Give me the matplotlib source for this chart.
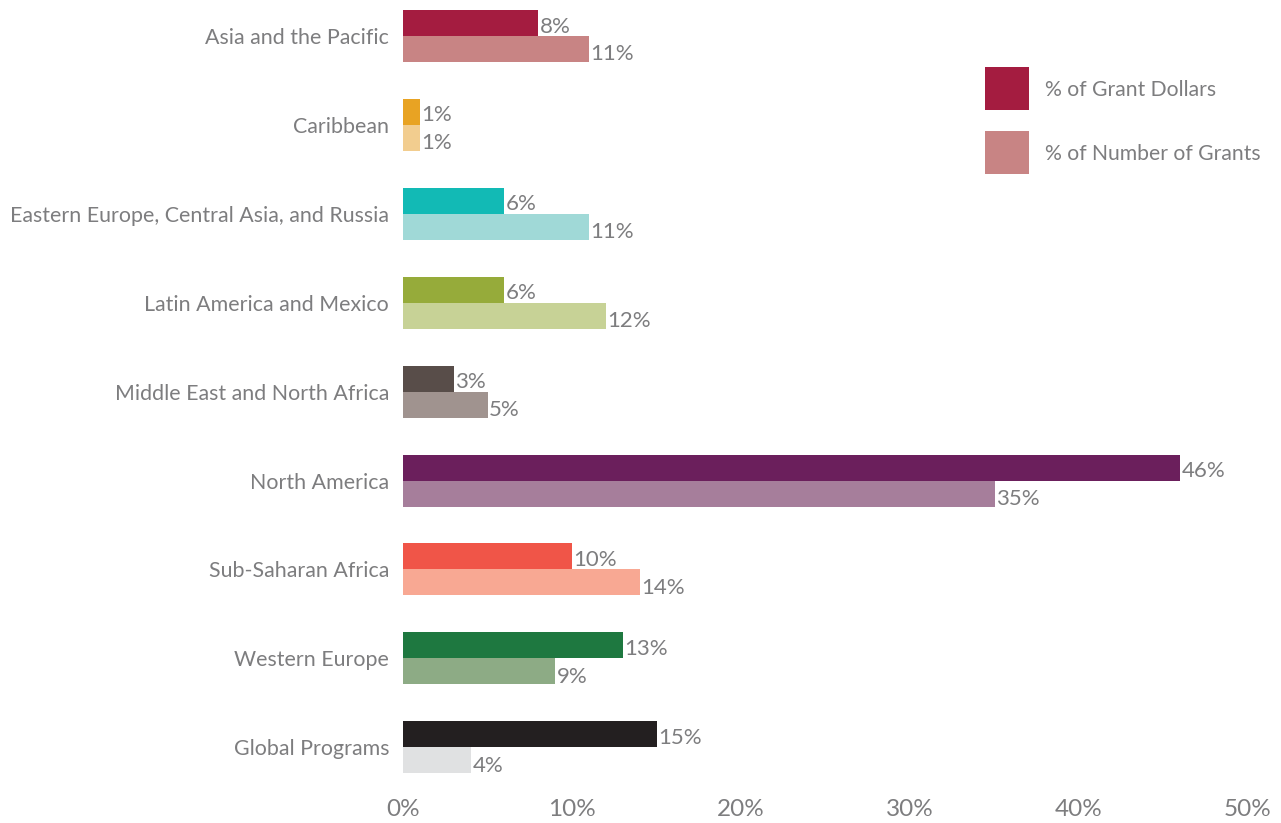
import matplotlib
matplotlib.use("Agg")
import matplotlib.pyplot as plt
from matplotlib.patches import Rectangle

categories = ["Asia and the Pacific", "Caribbean", "Eastern Europe, Central Asia, and Russia",
              "Latin America and Mexico", "Middle East and North Africa", "North America",
              "Sub-Saharan Africa", "Western Europe", "Global Programs"]
grant_dollars = [8, 1, 6, 6, 3, 46, 10, 13, 15]
number_grants = [11, 1, 11, 12, 5, 35, 14, 9, 4]
dark_colors = ["#a41c40", "#e8a323", "#12bab5", "#96ab3a", "#584d49", "#6b1f5c", "#f05548", "#1e7840", "#231f20"]
light_colors = ["#c88484", "#f2cd8f", "#a0d9d7", "#c7d296", "#a0938f", "#a67e9b", "#f8a893", "#8dab85", "#e0e1e2"]
x_ticks = [0, 10, 20, 30, 40, 50]
legend_labels = ["% of Grant Dollars", "% of Number of Grants"]

plt.rcParams['font.family'] = ['Lato', 'DejaVu Sans']
TXT = "#7d7d7f"

W, H = 1281, 823
fig = plt.figure(figsize=(W / 100, H / 100), dpi=100)
ax_left, ax_right = 403 / W, 1248 / W
ax_top_px, ax_bot_px = 5, 785
ax = fig.add_axes([ax_left, 1 - ax_bot_px / H, ax_right - ax_left, (ax_bot_px - ax_top_px) / H])

step = 88.9
c0 = 36
bh = 26 / step
ax.set_ylim((ax_bot_px - c0) / step, (ax_top_px - c0) / step)
ax.set_xlim(0, 50)

for i, (d, n) in enumerate(zip(grant_dollars, number_grants)):
    ax.barh(i - bh / 2, d, height=bh, color=dark_colors[i], linewidth=0)
    ax.barh(i + bh / 2, n, height=bh, color=light_colors[i], linewidth=0)
    ax.text(d + 0.1, i - bh / 2 + 0.04, f"{d}%", va="center", ha="left", fontsize=16, color=TXT)
    ax.text(n + 0.1, i + bh / 2 + 0.06, f"{n}%", va="center", ha="left", fontsize=16, color=TXT)

ax.set_yticks(range(len(categories)))
ax.set_yticklabels(categories, fontsize=15.4, color=TXT)
ax.set_xticks(x_ticks)
ax.set_xticklabels([f"{t}%" for t in x_ticks], fontsize=17.5, color=TXT)
ax.tick_params(axis="both", length=0)
ax.tick_params(axis="y", pad=10)
ax.tick_params(axis="x", pad=10)
for s in ax.spines.values():
    s.set_visible(False)

# legend
for k, (lab, col) in enumerate(zip(legend_labels, [dark_colors[0], light_colors[0]])):
    y_top = 67 + k * 64
    fig.patches.append(Rectangle((985 / W, 1 - (y_top + 43) / H), 44 / W, 43 / H,
                                 transform=fig.transFigure, color=col, linewidth=0))
    fig.text(1045 / W, 1 - (y_top + 23) / H, lab, fontsize=15.2, color=TXT, va="center", ha="left")

fig.savefig("out.png", dpi=100)
